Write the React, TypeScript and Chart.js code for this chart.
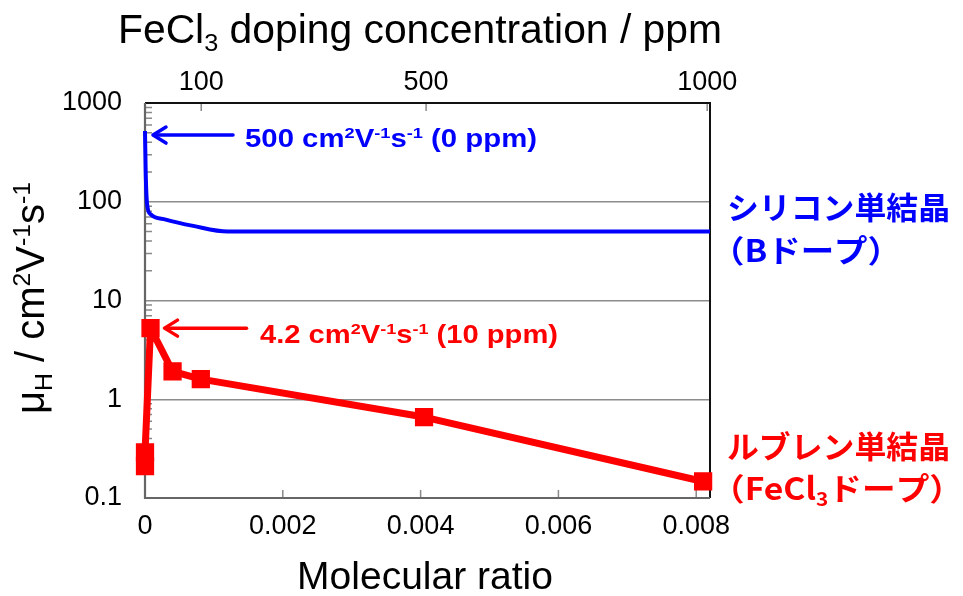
import React, { useEffect, useRef } from 'react';
import { Chart, registerables } from 'chart.js';

Chart.register(...registerables);

// ---- data ----
const rubreneRatio = [0, 0, 0.00008, 0.0004, 0.00081, 0.00405, 0.0081];
const rubreneMobility = [0.21, 0.29, 5.25, 1.92, 1.6, 0.66, 0.147];
const siliconRatio = [0, 0.00001, 0.00003, 0.00008, 0.0003, 0.0007, 0.0012, 0.0082];
const siliconMobility = [520, 200, 95, 75, 66, 57, 50, 50];
const xTicks = [0, 0.002, 0.004, 0.006, 0.008];
const xTickLabels = ['0', '0.002', '0.004', '0.006', '0.008'];
const ppmTicks = [100, 500, 1000];
const ppmTickLabels = ['100', '500', '1000'];
const yTicks = [0.1, 1, 10, 100, 1000];
const yTickLabels = ['0.1', '1', '10', '100', '1000'];
const yGridValues = [1, 10, 100];

const BLUE = '#0000ff';
const RED = '#ff0000';
const SANS = '"Liberation Sans", Arial, sans-serif';
const CJK = '"Noto Sans CJK JP", "Noto Sans", sans-serif';

type Seg = { t: string; m?: 'sub' | 'sup' };
type RichOpts = {
  size: number;
  weight?: string;
  family: string;
  color: string;
  align?: 'left' | 'center';
  width?: number;
  rotate?: number;
};

function fontStr(weight: string, size: number, family: string) {
  return `${weight} ${size}px ${family}`;
}

function drawRich(ctx: CanvasRenderingContext2D, segs: Seg[], x: number, y: number, o: RichOpts) {
  const weight = o.weight || 'normal';
  const small = o.size * 0.62;
  let w = 0;
  for (const s of segs) {
    ctx.font = fontStr(weight, s.m ? small : o.size, o.family);
    w += ctx.measureText(s.t).width;
  }
  const sx = o.width ? o.width / w : 1;
  ctx.save();
  ctx.translate(x, y);
  if (o.rotate) ctx.rotate(o.rotate);
  ctx.scale(sx, 1);
  let cx = o.align === 'center' ? -w / 2 : 0;
  ctx.fillStyle = o.color;
  ctx.textBaseline = 'alphabetic';
  ctx.textAlign = 'left';
  for (const s of segs) {
    ctx.font = fontStr(weight, s.m ? small : o.size, o.family);
    const dy = s.m === 'sub' ? o.size * 0.2 : s.m === 'sup' ? -o.size * 0.36 : 0;
    ctx.fillText(s.t, cx, dy);
    cx += ctx.measureText(s.t).width;
  }
  ctx.restore();
}

function drawArrow(ctx: CanvasRenderingContext2D, tipX: number, tailX: number, y: number, color: string) {
  ctx.save();
  ctx.strokeStyle = color;
  ctx.lineWidth = 3.5;
  ctx.lineCap = 'round';
  ctx.lineJoin = 'round';
  ctx.beginPath();
  ctx.moveTo(tailX, y);
  ctx.lineTo(tipX + 1, y);
  ctx.stroke();
  ctx.beginPath();
  ctx.moveTo(tipX + 13, y - 8);
  ctx.lineTo(tipX, y);
  ctx.lineTo(tipX + 13, y + 8);
  ctx.stroke();
  ctx.restore();
}

const framePlugin = {
  id: 'frameAndTicks',
  beforeDatasetsDraw(chart: any) {
    const { ctx, chartArea: a, scales } = chart;
    const y = scales.y;
    const x = scales.x;
    const x2 = scales.x2;
    ctx.save();
    // inner tick marks
    ctx.strokeStyle = '#8a8a8a';
    ctx.lineWidth = 1.5;
    ctx.beginPath();
    for (let e = -1; e <= 2; e++) {
      for (let k = 2; k <= 9; k++) {
        const py = y.getPixelForValue(k * Math.pow(10, e));
        ctx.moveTo(a.left, py);
        ctx.lineTo(a.left + 7, py);
      }
    }
    for (const v of xTicks) {
      const px = x.getPixelForValue(v);
      ctx.moveTo(px, a.bottom);
      ctx.lineTo(px, a.bottom - 8);
    }
    for (const v of ppmTicks) {
      const px = x2.getPixelForValue(v);
      ctx.moveTo(px, a.top);
      ctx.lineTo(px, a.top + 8);
    }
    ctx.stroke();
    // frame
    ctx.lineWidth = 2;
    ctx.strokeStyle = '#111';
    ctx.beginPath();
    ctx.moveTo(a.left, a.top);
    ctx.lineTo(a.right, a.top);
    ctx.lineTo(a.right, a.bottom);
    ctx.stroke();
    ctx.strokeStyle = '#666';
    ctx.lineWidth = 2.2;
    ctx.beginPath();
    ctx.moveTo(a.left, a.top);
    ctx.lineTo(a.left, a.bottom);
    ctx.lineTo(a.right, a.bottom);
    ctx.stroke();
    ctx.restore();
  },
  afterDatasetsDraw(chart: any) {
    const { ctx, scales } = chart;
    const x = scales.x;
    const y = scales.y;
    // axis titles
    drawRich(ctx, [{ t: 'FeCl' }, { t: '3', m: 'sub' }, { t: ' doping concentration / ppm' }], 420, 43, {
      size: 40, family: SANS, color: '#000', align: 'center', width: 604,
    });
    drawRich(ctx, [{ t: 'Molecular ratio' }], 425, 589, {
      size: 39, family: SANS, color: '#000', align: 'center',
    });
    drawRich(
      ctx,
      [{ t: 'μ' }, { t: 'H', m: 'sub' }, { t: ' / cm' }, { t: '2', m: 'sup' }, { t: 'V' }, { t: '-1', m: 'sup' }, { t: 's' }, { t: '-1', m: 'sup' }],
      44, 298,
      { size: 40, family: SANS, color: '#000', align: 'center', rotate: -Math.PI / 2 }
    );
    // annotations
    const bTipX = x.getPixelForValue(siliconRatio[0]) + 8;
    const bY = y.getPixelForValue(siliconMobility[0]) + 4;
    drawArrow(ctx, bTipX, bTipX + 80, bY, BLUE);
    drawRich(
      ctx,
      [{ t: '500 cm' }, { t: '2', m: 'sup' }, { t: 'V' }, { t: '-1', m: 'sup' }, { t: 's' }, { t: '-1', m: 'sup' }, { t: ' (0 ppm)' }],
      245, 147,
      { size: 25, weight: 'bold', family: SANS, color: BLUE, width: 292 }
    );
    const rTipX = x.getPixelForValue(rubreneRatio[2]) + 14;
    const rY = y.getPixelForValue(rubreneMobility[2]);
    drawArrow(ctx, rTipX, rTipX + 82, rY, RED);
    drawRich(
      ctx,
      [{ t: '4.2 cm' }, { t: '2', m: 'sup' }, { t: 'V' }, { t: '-1', m: 'sup' }, { t: 's' }, { t: '-1', m: 'sup' }, { t: ' (10 ppm)' }],
      260, 343,
      { size: 25, weight: 'bold', family: SANS, color: RED, width: 298 }
    );
    // series labels at right
    drawRich(ctx, [{ t: 'シリコン単結晶' }], 727, 219, { size: 31, weight: 'bold', family: CJK, color: BLUE, width: 223 });
    drawRich(ctx, [{ t: '（Bドープ）' }], 711, 262, { size: 31, weight: 'bold', family: CJK, color: BLUE, width: 190 });
    drawRich(ctx, [{ t: 'ルブレン単結晶' }], 727, 458, { size: 31, weight: 'bold', family: CJK, color: RED, width: 223 });
    drawRich(ctx, [{ t: '（FeCl' }, { t: '3', m: 'sub' }, { t: 'ドープ）' }], 711, 500, { size: 31, weight: 'bold', family: CJK, color: RED, width: 252 });
  },
};

export default function App() {
  const ref = useRef<HTMLCanvasElement | null>(null);
  useEffect(() => {
    if (!ref.current) return;
    const chart = new Chart(ref.current, {
      type: 'line',
      data: {
        datasets: [
          {
            label: 'Silicon',
            data: siliconRatio.map((v, i) => ({ x: v, y: siliconMobility[i] })),
            borderColor: BLUE,
            backgroundColor: BLUE,
            borderWidth: 4,
            pointRadius: 0,
            tension: 0.3,
            cubicInterpolationMode: 'monotone',
            clip: false,
            xAxisID: 'x',
            yAxisID: 'y',
          } as any,
          {
            label: 'Rubrene',
            data: rubreneRatio.map((v, i) => ({ x: v, y: rubreneMobility[i] })),
            borderColor: RED,
            backgroundColor: RED,
            borderWidth: 7,
            borderJoinStyle: 'round',
            pointStyle: 'rect',
            pointRadius: 11.5,
            pointBorderWidth: 2,
            pointBorderColor: RED,
            pointBackgroundColor: RED,
            clip: false,
            xAxisID: 'x',
            yAxisID: 'y',
          } as any,
        ],
      },
      options: {
        animation: false,
        responsive: false,
        layout: { padding: { left: 0, right: 253, top: 0, bottom: 0 } },
        plugins: { legend: { display: false }, tooltip: { enabled: false }, title: { display: false } },
        scales: {
          x: {
            type: 'linear',
            position: 'bottom',
            min: 0,
            max: 0.0082,
            afterBuildTicks: (s: any) => { s.ticks = xTicks.map((v) => ({ value: v })); },
            afterFit: (s: any) => { s.height = 98; },
            grid: { display: false, drawTicks: false },
            border: { display: false },
            ticks: {
              padding: 12,
              maxRotation: 0,
              autoSkip: false,
              color: '#000',
              font: { family: SANS, size: 27 },
              callback: (_v: any, i: number) => xTickLabels[i],
            },
          },
          x2: {
            type: 'linear',
            position: 'top',
            min: 0,
            max: 1005,
            afterBuildTicks: (s: any) => { s.ticks = ppmTicks.map((v) => ({ value: v })); },
            afterFit: (s: any) => { s.height = 103; },
            grid: { display: false, drawTicks: false },
            border: { display: false },
            ticks: {
              padding: 4,
              maxRotation: 0,
              autoSkip: false,
              color: '#000',
              font: { family: SANS, size: 27 },
              callback: (_v: any, i: number) => ppmTickLabels[i],
            },
          },
          y: {
            type: 'logarithmic',
            min: 0.1,
            max: 1000,
            afterBuildTicks: (s: any) => { s.ticks = yTicks.map((v) => ({ value: v })); },
            afterFit: (s: any) => { s.width = 145; },
            grid: {
              drawTicks: false,
              lineWidth: 1.5,
              color: (c: any) => (c.tick && yGridValues.includes(c.tick.value) ? '#8c8c8c' : 'rgba(0,0,0,0)'),
            },
            border: { display: false },
            ticks: {
              padding: 23,
              autoSkip: false,
              color: '#000',
              font: { family: SANS, size: 27 },
              callback: (_v: any, i: number) => yTickLabels[i],
            },
          },
        },
      } as any,
      plugins: [framePlugin],
    });
    return () => chart.destroy();
  }, []);
  return (
    <div style={{ position: 'fixed', left: 0, top: 0, width: 963, height: 596, background: '#fff' }}>
      <canvas ref={ref} width={963} height={596} />
    </div>
  );
}
